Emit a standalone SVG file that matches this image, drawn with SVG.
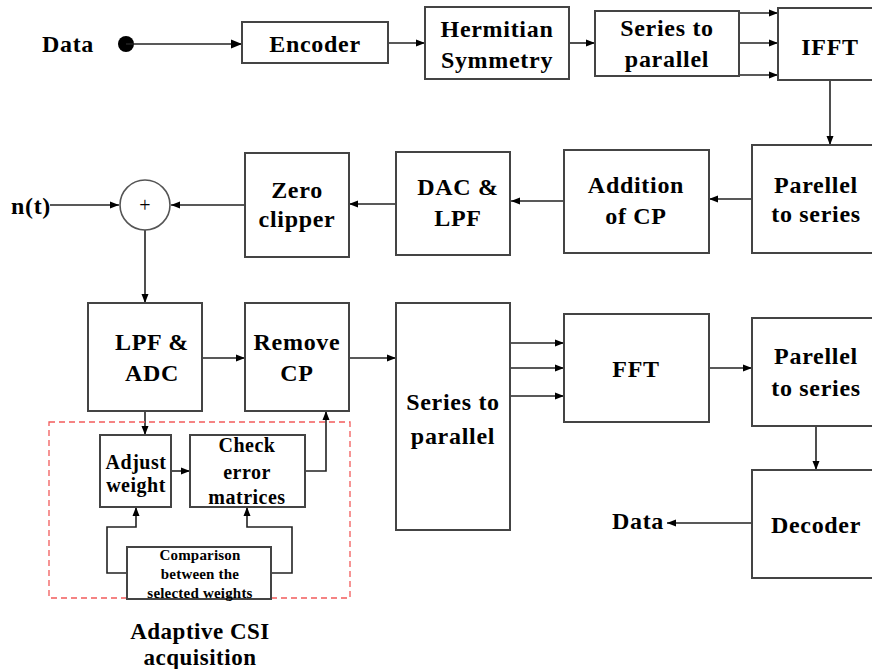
<svg xmlns="http://www.w3.org/2000/svg" width="872" height="669" viewBox="0 0 872 669">
<defs>
<marker id="ah" markerUnits="userSpaceOnUse" markerWidth="12" markerHeight="10" refX="11" refY="5" orient="auto">
<path d="M0,0.5 L11,5 L0,9.5 Z" fill="#000"/>
</marker>
<marker id="ahs" markerUnits="userSpaceOnUse" markerWidth="10" markerHeight="8" refX="9" refY="4" orient="auto">
<path d="M0,0.5 L9,4 L0,7.5 Z" fill="#000"/>
</marker>
</defs>
<style>
rect.b{fill:#fff;stroke:#444;stroke-width:2}
text{font-family:"Liberation Serif","Times New Roman",serif;font-weight:bold;fill:#000;text-anchor:middle}
.t{font-size:24px;letter-spacing:0.7px}
.m{font-size:20px;letter-spacing:0.5px}
.s{font-size:15px;letter-spacing:0.2px}
.c path,.c line{stroke:#222;stroke-width:1.6;fill:none}
</style>
<rect width="872" height="669" fill="#fff"/>

<g class="c" id="connectors">
<circle cx="126" cy="44" r="8" fill="#000"/>
<line x1="126" y1="44" x2="242" y2="44" marker-end="url(#ah)"/>
<line x1="388" y1="43" x2="425" y2="43" marker-end="url(#ahs)"/>
<line x1="569" y1="43" x2="595" y2="43" marker-end="url(#ahs)"/>
<line x1="739" y1="13" x2="778" y2="13" marker-end="url(#ahs)"/>
<line x1="739" y1="43" x2="778" y2="43" marker-end="url(#ahs)"/>
<line x1="739" y1="75" x2="778" y2="75" marker-end="url(#ahs)"/>
<line x1="830" y1="80" x2="830" y2="145" marker-end="url(#ahs)"/>
<line x1="752" y1="199" x2="709" y2="199" marker-end="url(#ahs)"/>
<line x1="564" y1="201" x2="511" y2="201" marker-end="url(#ahs)"/>
<line x1="396" y1="204" x2="349" y2="204" marker-end="url(#ahs)"/>
<line x1="245" y1="205" x2="171" y2="205" marker-end="url(#ahs)"/>
<line x1="50" y1="205" x2="119" y2="205" marker-end="url(#ahs)"/>
<line x1="145" y1="230" x2="145" y2="303" marker-end="url(#ahs)"/>
<line x1="202" y1="358" x2="245" y2="358" marker-end="url(#ahs)"/>
<line x1="349" y1="358" x2="396" y2="358" marker-end="url(#ahs)"/>
<line x1="510" y1="343" x2="564" y2="343" marker-end="url(#ahs)"/>
<line x1="510" y1="368" x2="564" y2="368" marker-end="url(#ahs)"/>
<line x1="510" y1="396" x2="564" y2="396" marker-end="url(#ahs)"/>
<line x1="709" y1="368" x2="752" y2="368" marker-end="url(#ahs)"/>
<line x1="816" y1="426" x2="816" y2="470" marker-end="url(#ahs)"/>
<line x1="752" y1="523" x2="667" y2="523" marker-end="url(#ahs)"/>
<line x1="145" y1="411" x2="145" y2="435" marker-end="url(#ahs)"/>
<line x1="171" y1="471" x2="190" y2="471" marker-end="url(#ahs)"/>
<path d="M305,471 H326 V411" marker-end="url(#ahs)"/>
<path d="M127,573 H107 V527 H136 V507" marker-end="url(#ahs)"/>
<path d="M271,573 H292 V527 H247 V507" marker-end="url(#ahs)"/>
</g>

<g id="label-data-in"><text class="t" x="68" y="52">Data</text></g>
<g id="encoder"><rect class="b" x="242" y="22" width="146" height="41"/><text class="t" x="315" y="52">Encoder</text></g>
<g id="hermitian"><rect class="b" x="425" y="7" width="144" height="72"/><text class="t" x="497" y="37">Hermitian</text><text class="t" x="497" y="68">Symmetry</text></g>
<g id="s2p-top"><rect class="b" x="595" y="11" width="144" height="65"/><text class="t" x="667" y="36">Series to</text><text class="t" x="667" y="67">parallel</text></g>
<g id="ifft"><rect class="b" x="778" y="8" width="100" height="72"/><text class="t" x="830" y="55">IFFT</text></g>
<g id="p2s-top"><rect class="b" x="752" y="145" width="125" height="108"/><text class="t" x="816" y="193">Parellel</text><text class="t" x="816" y="222">to series</text></g>
<g id="addcp"><rect class="b" x="564" y="150" width="145" height="103"/><text class="t" x="636" y="193">Addition</text><text class="t" x="636" y="224">of CP</text></g>
<g id="dac"><rect class="b" x="396" y="152" width="114" height="103"/><text class="t" x="458" y="195">DAC &amp;</text><text class="t" x="458" y="226">LPF</text></g>
<g id="zero"><rect class="b" x="245" y="153" width="104" height="104"/><text class="t" x="297" y="198">Zero</text><text class="t" x="297" y="227">clipper</text></g>
<g id="adder"><circle cx="145" cy="205" r="25" fill="#fff" stroke="#555" stroke-width="1.6"/><text x="145" y="212" style="font-size:20px;font-weight:normal">+</text></g>
<g id="label-nt"><text class="t" x="31" y="214">n(t)</text></g>
<g id="lpfadc"><rect class="b" x="88" y="303" width="114" height="108"/><text class="t" x="152" y="350">LPF &amp;</text><text class="t" x="152" y="381">ADC</text></g>
<g id="removecp"><rect class="b" x="245" y="303" width="104" height="108"/><text class="t" x="297" y="350">Remove</text><text class="t" x="297" y="381">CP</text></g>
<g id="s2p-bottom"><rect class="b" x="396" y="303" width="114" height="227"/><text class="t" x="453" y="410">Series to</text><text class="t" x="453" y="444">parallel</text></g>
<g id="fft"><rect class="b" x="564" y="314" width="145" height="108"/><text class="t" x="636" y="377">FFT</text></g>
<g id="p2s-bottom"><rect class="b" x="752" y="318" width="125" height="108"/><text class="t" x="816" y="364">Parellel</text><text class="t" x="816" y="396">to series</text></g>
<g id="decoder"><rect class="b" x="752" y="470" width="125" height="108"/><text class="t" x="816" y="533">Decoder</text></g>
<g id="label-data-out"><text class="t" x="638" y="529">Data</text></g>

<g id="csi-group">
<rect x="49" y="422" width="301" height="176" fill="none" stroke="#f25b5b" stroke-width="1.3" stroke-dasharray="6,4"/>
</g>
<g id="adjust"><rect class="b" x="100" y="435" width="71" height="72"/><text class="m" x="136" y="469">Adjust</text><text class="m" x="136" y="492">weight</text></g>
<g id="check"><rect class="b" x="190" y="435" width="115" height="72"/><text class="m" x="247" y="452">Check</text><text class="m" x="247" y="479">error</text><text class="m" x="247" y="504">matrices</text></g>
<g id="comparison"><rect class="b" x="127" y="547" width="144" height="52"/><text class="s" x="200" y="560">Comparison</text><text class="s" x="200" y="579">between the</text><text class="s" x="200" y="598">selected weights</text></g>
<g id="label-csi"><text class="t" x="200" y="639" style="font-size:23px;letter-spacing:0.5px">Adaptive CSI</text><text class="t" x="200" y="665" style="font-size:23px;letter-spacing:0.5px">acquisition</text></g>
</svg>
